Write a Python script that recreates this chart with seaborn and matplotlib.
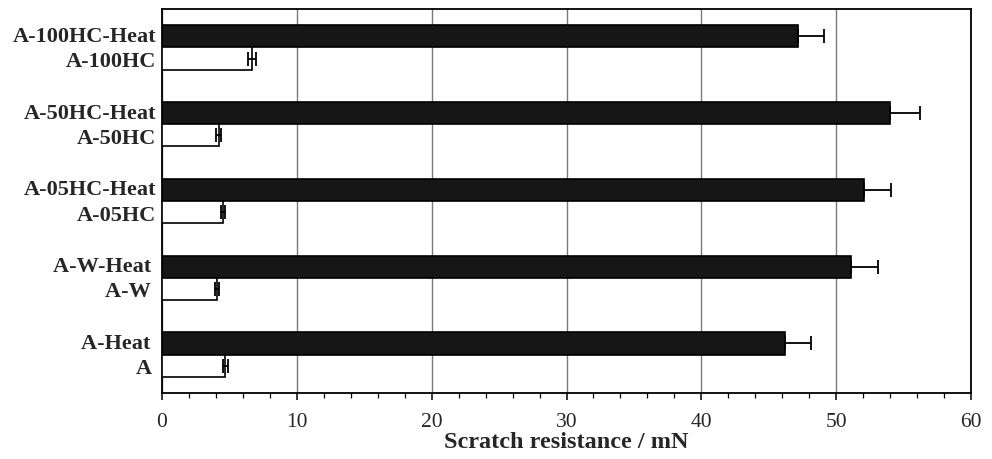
import matplotlib
matplotlib.use("Agg")
import matplotlib.pyplot as plt
import matplotlib.transforms as mtransforms
import seaborn as sns
import pandas as pd
import numpy as np
from matplotlib.ticker import MultipleLocator
from matplotlib.container import BarContainer

# Data (top to bottom)
groups = ["A-100HC", "A-50HC", "A-05HC", "A-W", "A"]
heat_labels = ["A-100HC-Heat", "A-50HC-Heat", "A-05HC-Heat", "A-W-Heat ", "A-Heat "]
plain_labels = ["A-100HC", "A-50HC", "A-05HC", "A-W ", "A "]
heat_values = [47.2, 54.0, 52.1, 51.1, 46.2]
heat_errors = [1.9, 2.2, 2.0, 2.0, 1.9]
plain_values = [6.7, 4.2, 4.5, 4.1, 4.7]
plain_errors = [0.3, 0.2, 0.15, 0.15, 0.2]

df = pd.DataFrame({
    "group": groups * 2,
    "type": ["Heat"] * len(groups) + ["Plain"] * len(groups),
    "value": heat_values + plain_values,
    "err": heat_errors + plain_errors,
})

sns.set_theme(style="white")
plt.rcParams["font.family"] = ["Liberation Serif", "DejaVu Serif"]

fig = plt.figure(figsize=(9.92, 4.6), dpi=100)
ax = fig.add_axes([162 / 992, 1 - 394 / 460, (971 - 162) / 992, (394 - 10) / 460])

sns.barplot(data=df, y="group", x="value", hue="type", order=groups,
            hue_order=["Heat", "Plain"], orient="h",
            palette={"Heat": "#161616", "Plain": "white"},
            edgecolor="black", linewidth=1.2, width=0.58, dodge=True,
            errorbar=None, legend=False, ax=ax, zorder=3)

# error bars from the bar geometry (heat bars: only the outer half is visible)
bar_conts = [c for c in ax.containers if isinstance(c, BarContainer)]
errs_by_type = [heat_errors, plain_errors]
labels_by_type = [heat_labels, plain_labels]
tick_pos, tick_lab, tick_kind = [], [], []
for ci, cont in enumerate(bar_conts):
    for bi, bar in enumerate(list(cont.patches)):
        yc = bar.get_y() + bar.get_height() / 2
        xv = bar.get_width()
        e = errs_by_type[ci][bi]
        xerr = [[0], [e]] if ci == 0 else [[e], [e]]
        ax.errorbar(xv, yc, xerr=xerr, fmt="none",
                    ecolor="black", elinewidth=1.3, capsize=5, capthick=1.3,
                    zorder=4)
        tick_pos.append(yc)
        tick_lab.append(labels_by_type[ci][bi])
        tick_kind.append(ci)

ax.set_yticks(tick_pos)
ax.set_yticklabels(tick_lab, fontsize=16, fontweight="bold")
ax.tick_params(axis="y", length=0, pad=4)
shift_up = mtransforms.ScaledTranslation(0, 3 / 100, fig.dpi_scale_trans)
for lab, kind in zip(ax.get_yticklabels(), tick_kind):
    if kind == 0:
        lab.set_transform(lab.get_transform() + shift_up)

ax.set_xlim(0, 60)
ax.set_ylim(4.5, -0.5)
ax.xaxis.set_major_locator(MultipleLocator(10))
ax.xaxis.set_minor_locator(MultipleLocator(2))
ax.tick_params(axis="x", which="major", direction="out", length=5, width=1.1,
               labelsize=15.5, pad=9, bottom=True, color="black")
ax.tick_params(axis="x", which="minor", direction="out", length=3.5, width=0.9,
               bottom=True, color="black")
ax.set_xlabel("Scratch resistance / mN", fontsize=17.5, fontweight="bold", labelpad=0)
ax.set_ylabel("")

ax.grid(False)
ax.xaxis.grid(True, which="major", color="#7a7a7a", linewidth=1.0, zorder=0)
ax.set_axisbelow(True)

for s in ax.spines.values():
    s.set_visible(True)
    s.set_color("black")
    s.set_linewidth(1.3)

fig.savefig("out.png", dpi=100, facecolor="white")
